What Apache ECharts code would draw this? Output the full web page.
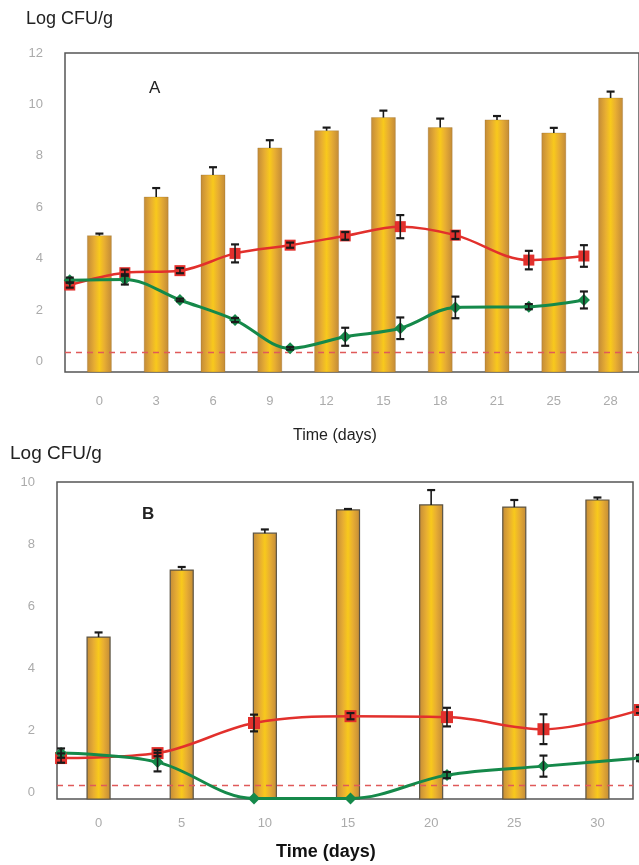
<!DOCTYPE html>
<html>
<head>
<meta charset="utf-8">
<script src="https://cdn.jsdelivr.net/npm/echarts@6/dist/echarts.min.js"></script>
<style>
html,body{margin:0;padding:0;background:#fff;}
#c{width:639px;height:865px;}
</style>
</head>
<body>
<div id="c"></div>
<script>
// ---------- Panel A ----------
const catsA      = ['0','3','6','9','12','15','18','21','25','28'];
const daysA      = [0,3,6,9,12,15,18,21,25,28];
const barA       = [4.9,6.4,7.26,8.31,8.98,9.49,9.1,9.4,8.89,10.25];
const barErrA    = [0.08,0.35,0.3,0.3,0.12,0.27,0.35,0.15,0.2,0.25];
const redA       = [2.98,3.46,3.54,4.21,4.53,4.89,5.25,4.92,3.95,4.11];
const redErrA    = [0.1,0.12,0.1,0.35,0.1,0.15,0.45,0.15,0.36,0.42];
const greenA     = [3.17,3.2,2.4,1.62,0.52,0.97,1.3,2.11,2.14,2.4];
const greenErrA  = [0.1,0.2,0.05,0.08,0.05,0.35,0.42,0.42,0.1,0.33];
const limitA     = 0.35;
const yTicksA    = [0,2,4,6,8,10,12];
const yMinA = -0.4, yMaxA = 12;

// ---------- Panel B ----------
const catsB      = ['0','5','10','15','20','25','30'];
const daysB      = [0,5,10,15,20,25,30];
const barB       = [5.0,7.16,8.35,9.1,9.26,9.19,9.42];
const barErrB    = [0.15,0.1,0.12,0.03,0.48,0.23,0.08];
const redB       = [1.1,1.26,2.23,2.45,2.42,2.03,2.65];
const redErrB    = [0.15,0.1,0.27,0.1,0.3,0.48,0.1];
const greenB     = [1.26,0.97,-0.2,-0.2,0.55,0.84,1.1];
const greenErrB  = [0.15,0.3,0,0,0.1,0.34,0.1];
const limitB     = 0.22;
const yTicksB    = [0,2,4,6,8,10];
const yMinB = -0.22, yMaxB = 10;

const FONT = 'Liberation Sans, Arial, sans-serif';
const RED = '#e2302c';
const GREEN = '#15894a';

function barFill() {
  return {
    type: 'linear', x: 0, y: 0, x2: 1, y2: 0,
    colorStops: [
      {offset: 0, color: '#c28a38'},
      {offset: 0.3, color: '#e8ae32'},
      {offset: 0.5, color: '#f8c91c'},
      {offset: 0.7, color: '#e8ae32'},
      {offset: 1, color: '#c28a38'}
    ]
  };
}

// bars drawn from the axis minimum (bottom of the frame) up to the value
function barItem(minV, w, stroke, lw) {
  return function (params, api) {
    const i = api.value(0), v = api.value(1);
    const p1 = api.coord([i, v]);
    const p0 = api.coord([i, minV]);
    return {
      type: 'rect',
      shape: {x: p1[0] - w / 2, y: p1[1], width: w, height: p0[1] - p1[1]},
      style: {fill: barFill(), stroke: stroke, lineWidth: lw}
    };
  };
}

function errItem(both, capW) {
  return function (params, api) {
    const x = api.value(0), v = api.value(1), e = api.value(2);
    if (!(e > 0)) return null;
    const top = api.coord([x, v + e]);
    const bot = api.coord([x, both ? v - e : v]);
    const st = {stroke: '#1a1a1a', lineWidth: 1.6};
    const kids = [
      {type: 'line', shape: {x1: top[0], y1: top[1], x2: bot[0], y2: bot[1]}, style: st},
      {type: 'line', shape: {x1: top[0] - capW / 2, y1: top[1], x2: top[0] + capW / 2, y2: top[1]}, style: {stroke: '#1a1a1a', lineWidth: 2.2}}
    ];
    if (both) kids.push({type: 'line', shape: {x1: bot[0] - capW / 2, y1: bot[1], x2: bot[0] + capW / 2, y2: bot[1]}, style: {stroke: '#1a1a1a', lineWidth: 2.2}});
    return {type: 'group', children: kids};
  };
}

function pairs(xs, ys) { return xs.map((d, i) => [d, ys[i]]); }
function triples(xs, ys, es) { return xs.map((d, i) => [d, ys[i], es[i]]); }

const yLabel = (ticks) => ({
  customValues: ticks, color: '#ababab', fontSize: 13, margin: 22, fontFamily: FONT
});
const xLabel = (m) => ({color: '#ababab', fontSize: 13, margin: m, fontFamily: FONT});

const option = {
  backgroundColor: '#fff',
  animation: false,
  grid: [
    {left: 65, top: 53, width: 600, height: 319, show: true, borderColor: '#555', borderWidth: 1.5, backgroundColor: 'transparent'},
    {left: 71, top: 53, width: 574, height: 319, show: false},
    {left: 57, top: 482, width: 576, height: 317, show: true, borderColor: '#555', borderWidth: 1.5, backgroundColor: 'transparent'},
    {left: 57, top: 482, width: 583, height: 317, show: false}
  ],
  xAxis: [
    {type: 'value', gridIndex: 0, min: -0.26, max: 31, show: false},
    {type: 'category', gridIndex: 1, data: catsA, axisLine: {show: false}, axisTick: {show: false}, axisLabel: xLabel(23)},
    {type: 'value', gridIndex: 2, min: -0.21, max: 29.64, show: false},
    {type: 'category', gridIndex: 3, data: catsB, axisLine: {show: false}, axisTick: {show: false}, axisLabel: xLabel(18)}
  ],
  yAxis: [
    {type: 'value', gridIndex: 0, min: yMinA, max: yMaxA, axisLine: {show: false}, axisTick: {show: false}, splitLine: {show: false}, axisLabel: yLabel(yTicksA)},
    {type: 'value', gridIndex: 1, min: yMinA, max: yMaxA, show: false, splitLine: {show: false}},
    {type: 'value', gridIndex: 2, min: yMinB, max: yMaxB, axisLine: {show: false}, axisTick: {show: false}, splitLine: {show: false}, axisLabel: yLabel(yTicksB)},
    {type: 'value', gridIndex: 3, min: yMinB, max: yMaxB, show: false, splitLine: {show: false}}
  ],
  series: [
    // Panel A bars
    {type: 'custom', xAxisIndex: 1, yAxisIndex: 1, renderItem: barItem(yMinA, 24, 'rgba(140,100,40,0.45)', 0.6),
     data: barA.map((v, i) => [i, v]), encode: {x: 0, y: 1}, clip: false, z: 1},
    {type: 'custom', xAxisIndex: 1, yAxisIndex: 1, renderItem: errItem(false, 8),
     data: barA.map((v, i) => [i, v, barErrA[i]]), encode: {x: 0, y: 1}, clip: false, z: 2},
    // Panel A lines
    {type: 'line', xAxisIndex: 0, yAxisIndex: 0, data: pairs(daysA, redA), smooth: 0.35,
     symbol: 'rect', symbolSize: 11, lineStyle: {color: RED, width: 2.5}, itemStyle: {color: RED}, z: 5},
    {type: 'line', xAxisIndex: 0, yAxisIndex: 0, data: pairs(daysA, greenA), smooth: 0.35,
     symbol: 'diamond', symbolSize: 12, lineStyle: {color: GREEN, width: 3}, itemStyle: {color: GREEN}, z: 5,
     markLine: {silent: true, symbol: 'none', label: {show: false},
       lineStyle: {color: '#e05a5a', type: [6, 5], width: 1.3}, data: [{yAxis: limitA}]}},
    {type: 'custom', xAxisIndex: 0, yAxisIndex: 0, renderItem: errItem(true, 8),
     data: triples(daysA, redA, redErrA), encode: {x: 0, y: 1}, clip: false, z: 6},
    {type: 'custom', xAxisIndex: 0, yAxisIndex: 0, renderItem: errItem(true, 8),
     data: triples(daysA, greenA, greenErrA), encode: {x: 0, y: 1}, clip: false, z: 6},

    // Panel B bars
    {type: 'custom', xAxisIndex: 3, yAxisIndex: 3, renderItem: barItem(yMinB, 23, '#5c5444', 1.2),
     data: barB.map((v, i) => [i, v]), encode: {x: 0, y: 1}, clip: false, z: 1},
    {type: 'custom', xAxisIndex: 3, yAxisIndex: 3, renderItem: errItem(false, 8),
     data: barB.map((v, i) => [i, v, barErrB[i]]), encode: {x: 0, y: 1}, clip: false, z: 2},
    // Panel B lines
    {type: 'line', xAxisIndex: 2, yAxisIndex: 2, data: pairs(daysB, redB), smooth: 0.35, clip: false,
     symbol: 'rect', symbolSize: 12, lineStyle: {color: RED, width: 2.5}, itemStyle: {color: RED}, z: 5},
    {type: 'line', xAxisIndex: 2, yAxisIndex: 2, data: pairs(daysB, greenB), smooth: 0.35, clip: false,
     symbol: 'diamond', symbolSize: 12, lineStyle: {color: GREEN, width: 3}, itemStyle: {color: GREEN}, z: 5,
     markLine: {silent: true, symbol: 'none', label: {show: false},
       lineStyle: {color: '#e05a5a', type: [6, 5], width: 1.3}, data: [{yAxis: limitB}]}},
    {type: 'custom', xAxisIndex: 2, yAxisIndex: 2, renderItem: errItem(true, 8),
     data: triples(daysB, redB, redErrB), encode: {x: 0, y: 1}, clip: false, z: 6},
    {type: 'custom', xAxisIndex: 2, yAxisIndex: 2, renderItem: errItem(true, 8),
     data: triples(daysB, greenB, greenErrB), encode: {x: 0, y: 1}, clip: false, z: 6}
  ],
  graphic: [
    {type: 'text', left: 26, top: 10, style: {text: 'Log CFU/g', font: '18px ' + FONT, fill: '#222'}},
    {type: 'text', left: 149, top: 80, style: {text: 'A', font: '17px ' + FONT, fill: '#222'}},
    {type: 'text', left: 293, top: 428, style: {text: 'Time (days)', font: '16px ' + FONT, fill: '#222'}},
    {type: 'text', left: 10, top: 444, style: {text: 'Log CFU/g', font: '19px ' + FONT, fill: '#222'}},
    {type: 'text', left: 142, top: 506, style: {text: 'B', font: 'bold 17px ' + FONT, fill: '#222'}},
    {type: 'text', left: 276, top: 843, style: {text: 'Time (days)', font: '600 18px ' + FONT, fill: '#111'}}
  ]
};

const chart = echarts.init(document.getElementById('c'));
chart.setOption(option);
</script>
</body>
</html>
